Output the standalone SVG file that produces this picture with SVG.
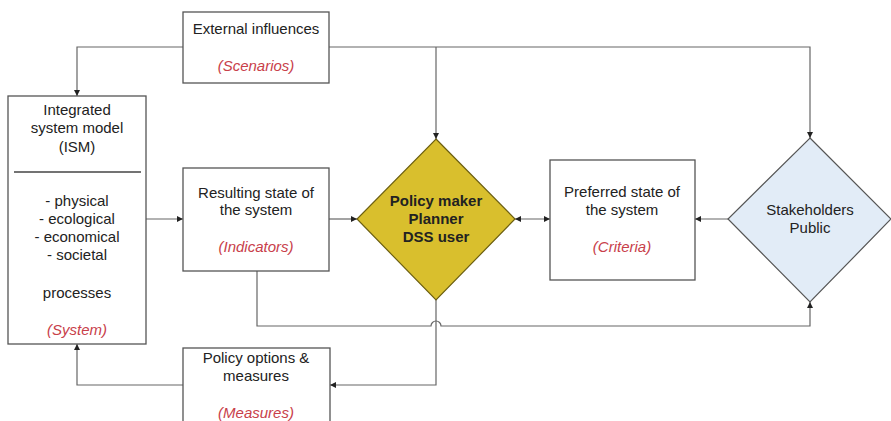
<svg xmlns="http://www.w3.org/2000/svg" width="891" height="421" viewBox="0 0 891 421">
<defs>
<marker id="arr" viewBox="0 0 10 10" refX="10" refY="5" markerWidth="6" markerHeight="6" markerUnits="userSpaceOnUse" orient="auto-start-reverse">
<path d="M0,0 L10,5 L0,10 z" fill="#222"/>
</marker>
<style>
.box{fill:#fff;stroke:#555;stroke-width:1.3}
.t{font-family:"Liberation Sans",Arial,sans-serif;font-size:15px;fill:#222;text-anchor:middle}
.r{font-family:"Liberation Sans",Arial,sans-serif;font-size:15px;fill:#c8404a;font-style:italic;text-anchor:middle}
.b{font-weight:bold}
.c{fill:none;stroke:#666;stroke-width:1.2}
</style>
</defs>
<rect width="891" height="421" fill="#fff"/>
<g id="connectors">
<path class="c" d="M183,47 H77 V96" marker-end="url(#arr)"/>
<path class="c" d="M329,47 H810 V138" marker-end="url(#arr)"/>
<path class="c" d="M436,47 V139" marker-end="url(#arr)"/>
<path class="c" d="M146,219 H183" marker-end="url(#arr)"/>
<path class="c" d="M329,219 H357" marker-end="url(#arr)"/>
<path class="c" d="M515,219 H550" marker-start="url(#arr)" marker-end="url(#arr)"/>
<path class="c" d="M728,219 H695" marker-end="url(#arr)"/>
<path class="c" d="M257,271 V326 H431 A5,5 0 0 1 441,326 H810 V302" marker-end="url(#arr)"/>
<path class="c" d="M436,300 V385 H330" marker-end="url(#arr)"/>
<path class="c" d="M183,385 H77 V344" marker-end="url(#arr)"/>
</g>
<g id="external">
<rect class="box" x="183" y="12" width="146" height="71"/>
<text class="t" x="256" y="34">External influences</text>
<text class="r" x="256" y="71">(Scenarios)</text>
</g>
<g id="ism">
<rect class="box" x="8" y="96" width="138" height="248"/>
<line x1="14" y1="172" x2="141" y2="172" stroke="#444" stroke-width="1.3"/>
<text class="t" x="77" y="115">Integrated</text>
<text class="t" x="77" y="133">system model</text>
<text class="t" x="77" y="152">(ISM)</text>
<text class="t" x="77" y="206">- physical</text>
<text class="t" x="77" y="224">- ecological</text>
<text class="t" x="77" y="242">- economical</text>
<text class="t" x="77" y="260">- societal</text>
<text class="t" x="77" y="298">processes</text>
<text class="r" x="77" y="335">(System)</text>
</g>
<g id="resulting">
<rect class="box" x="183" y="168" width="146" height="103"/>
<text class="t" x="256" y="198">Resulting state of</text>
<text class="t" x="256" y="215">the system</text>
<text class="r" x="256" y="252">(Indicators)</text>
</g>
<g id="policymaker">
<polygon points="436,139 515,219 436,300 357,219" fill="#d9bf2d" stroke="#6b5e10" stroke-width="1.2"/>
<text class="t b" x="436" y="206">Policy maker</text>
<text class="t b" x="436" y="224">Planner</text>
<text class="t b" x="436" y="242">DSS user</text>
</g>
<g id="preferred">
<rect class="box" x="550" y="160" width="145" height="120"/>
<text class="t" x="622" y="197">Preferred state of</text>
<text class="t" x="622" y="215">the system</text>
<text class="r" x="622" y="252">(Criteria)</text>
</g>
<g id="stakeholders">
<polygon points="810,138 891,219 810,302 728,219" fill="#e2ecf7" stroke="#555" stroke-width="1.2"/>
<text class="t" x="810" y="215">Stakeholders</text>
<text class="t" x="810" y="233">Public</text>
</g>
<g id="policyoptions">
<rect class="box" x="183" y="348" width="147" height="90"/>
<text class="t" x="256" y="363">Policy options &amp;</text>
<text class="t" x="256" y="381">measures</text>
<text class="r" x="256" y="418">(Measures)</text>
</g>
</svg>
